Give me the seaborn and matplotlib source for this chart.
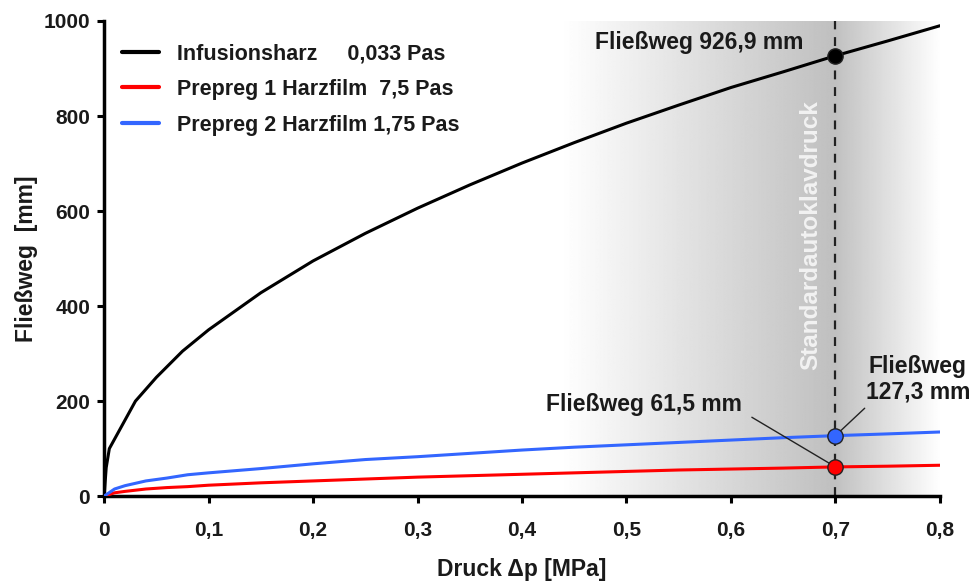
import numpy as np
import pandas as pd
import matplotlib
matplotlib.use("Agg")
import matplotlib.pyplot as plt
import seaborn as sns

# ---- data ----
x_black = [0, 0.002, 0.005, 0.01, 0.02, 0.03, 0.05, 0.075, 0.1, 0.15, 0.2, 0.25, 0.3,
           0.35, 0.4, 0.45, 0.5, 0.55, 0.6, 0.65, 0.7, 0.75, 0.8]
y_black = [0, 60, 100, 120, 160, 200, 250, 305, 350, 428, 495, 553, 606,
           655, 701, 744, 785, 823, 860, 893, 926.9, 958, 990]

x_red = [0, 0.01, 0.02, 0.04, 0.06, 0.08, 0.1, 0.15, 0.2, 0.25, 0.3, 0.35, 0.4,
         0.45, 0.5, 0.55, 0.6, 0.65, 0.7, 0.75, 0.8]
y_red = [0, 7, 10, 15, 18, 20, 23, 28, 32, 36, 40, 43, 46,
         49, 52, 55, 57, 59, 61.5, 63, 65]

x_blue = [0, 0.01, 0.02, 0.04, 0.06, 0.08, 0.1, 0.15, 0.2, 0.25, 0.3, 0.35, 0.4,
          0.45, 0.5, 0.55, 0.6, 0.65, 0.7, 0.75, 0.8]
y_blue = [0, 15, 22, 32, 38, 45, 49, 58, 68, 77, 83, 90, 97,
          103, 108, 113, 118, 123, 127.3, 131, 135]

labels = ["Infusionsharz     0,033 Pas", "Prepreg 1 Harzfilm  7,5 Pas", "Prepreg 2 Harzfilm 1,75 Pas"]
colors = ["#000000", "#ff0000", "#3366ff"]

x_std = 0.7
marker_y = [926.9, 61.5, 127.3]
xticks = [0, 0.1, 0.2, 0.3, 0.4, 0.5, 0.6, 0.7, 0.8]
xticklabels = ["0", "0,1", "0,2", "0,3", "0,4", "0,5", "0,6", "0,7", "0,8"]
yticks = [0, 200, 400, 600, 800, 1000]

frames = []
for xs, ys, lab in zip([x_black, x_red, x_blue], [y_black, y_red, y_blue], labels):
    frames.append(pd.DataFrame({"x": xs, "y": ys, "serie": lab}))
df = pd.concat(frames, ignore_index=True)

sns.set_theme(style="white")
plt.rcParams["font.family"] = ["Liberation Sans", "DejaVu Sans"]
plt.rcParams["font.weight"] = "bold"
TXT = "#1a1a1a"

fig = plt.figure(figsize=(9.73, 5.83), dpi=100)
ax = fig.add_axes([0.107, 0.149, 0.859, 0.815])

# gradient background
grad_x = np.linspace(0.436, 0.8, 400)
vals = np.interp(grad_x, [0.436, 0.699, 0.701, 0.8], [1.0, 0.75, 0.76, 1.0])
img = np.tile(vals, (2, 1))
ax.imshow(img, extent=[0.436, 0.8, 0, 1000], aspect="auto", cmap="gray", vmin=0, vmax=1,
          origin="lower", zorder=0, interpolation="bilinear")

sns.lineplot(data=df, x="x", y="y", hue="serie", palette=colors, linewidth=2.2,
             ax=ax, legend=True, sort=False, zorder=3)

ax.axvline(x_std, ymin=0, ymax=1, color="#222222", linestyle=(0, (4, 3.5)), linewidth=1.6, zorder=2)

ax.text(0.676, 550, "Standardautoklavdruck", rotation=90, ha="center", va="center",
        color="#f2f2f2", fontsize=17.5, fontweight="bold", zorder=4)

# leader lines
ax.annotate("", xy=(x_std, 61.5), xytext=(0.620, 166), zorder=4,
            arrowprops=dict(arrowstyle="-", color="#222222", lw=1, shrinkA=0, shrinkB=0))
ax.annotate("", xy=(x_std, 127.3), xytext=(0.728, 185), zorder=4,
            arrowprops=dict(arrowstyle="-", color="#222222", lw=1, shrinkA=0, shrinkB=0))

for yy, c in zip(marker_y, colors):
    ax.plot([x_std], [yy], "o", markersize=11, markerfacecolor=c, markeredgecolor="#222222",
            markeredgewidth=1, zorder=5)

ax.text(0.5695, 954, "Fließweg 926,9 mm", ha="center", va="center", fontsize=16.5,
        fontweight="bold", color=TXT, zorder=6)
ax.text(0.517, 192, "Fließweg 61,5 mm", ha="center", va="center", fontsize=16.5,
        fontweight="bold", color=TXT, zorder=6)
ax.text(0.779, 246, "Fließweg\n127,3 mm", ha="center", va="center", fontsize=16.5,
        fontweight="bold", color=TXT, zorder=6, linespacing=1.15)

ax.set_xlim(0, 0.8)
ax.set_ylim(0, 1000)
ax.set_xticks(xticks)
ax.set_xticklabels(xticklabels)
ax.set_yticks(yticks)
ax.set_yticklabels([str(v) for v in yticks])
ax.tick_params(axis="both", direction="out", length=5, width=2.2, labelsize=15, color="black",
               labelcolor=TXT, bottom=True, left=True)
ax.tick_params(axis="x", pad=13)
ax.tick_params(axis="y", pad=5)
for lab in ax.get_xticklabels() + ax.get_yticklabels():
    lab.set_fontweight("bold")
ax.set_xlabel("Druck Δp [MPa]", fontsize=16.5, fontweight="bold", labelpad=13, color=TXT)
ax.set_ylabel("Fließweg  [mm]", fontsize=16.5, fontweight="bold", labelpad=4, color=TXT)

sns.despine(ax=ax)
for s in ["left", "bottom"]:
    ax.spines[s].set_linewidth(2.5)
    ax.spines[s].set_color("black")

leg = ax.legend(loc="upper left", bbox_to_anchor=(0.011, 0.971), frameon=False, fontsize=15.5,
                handlelength=1.7, handletextpad=0.85, labelspacing=0.68, borderaxespad=0)
for t in leg.get_texts():
    t.set_fontweight("bold")
    t.set_color(TXT)
for h in leg.get_lines():
    h.set_linewidth(3)

fig.savefig("out.png", dpi=100)
